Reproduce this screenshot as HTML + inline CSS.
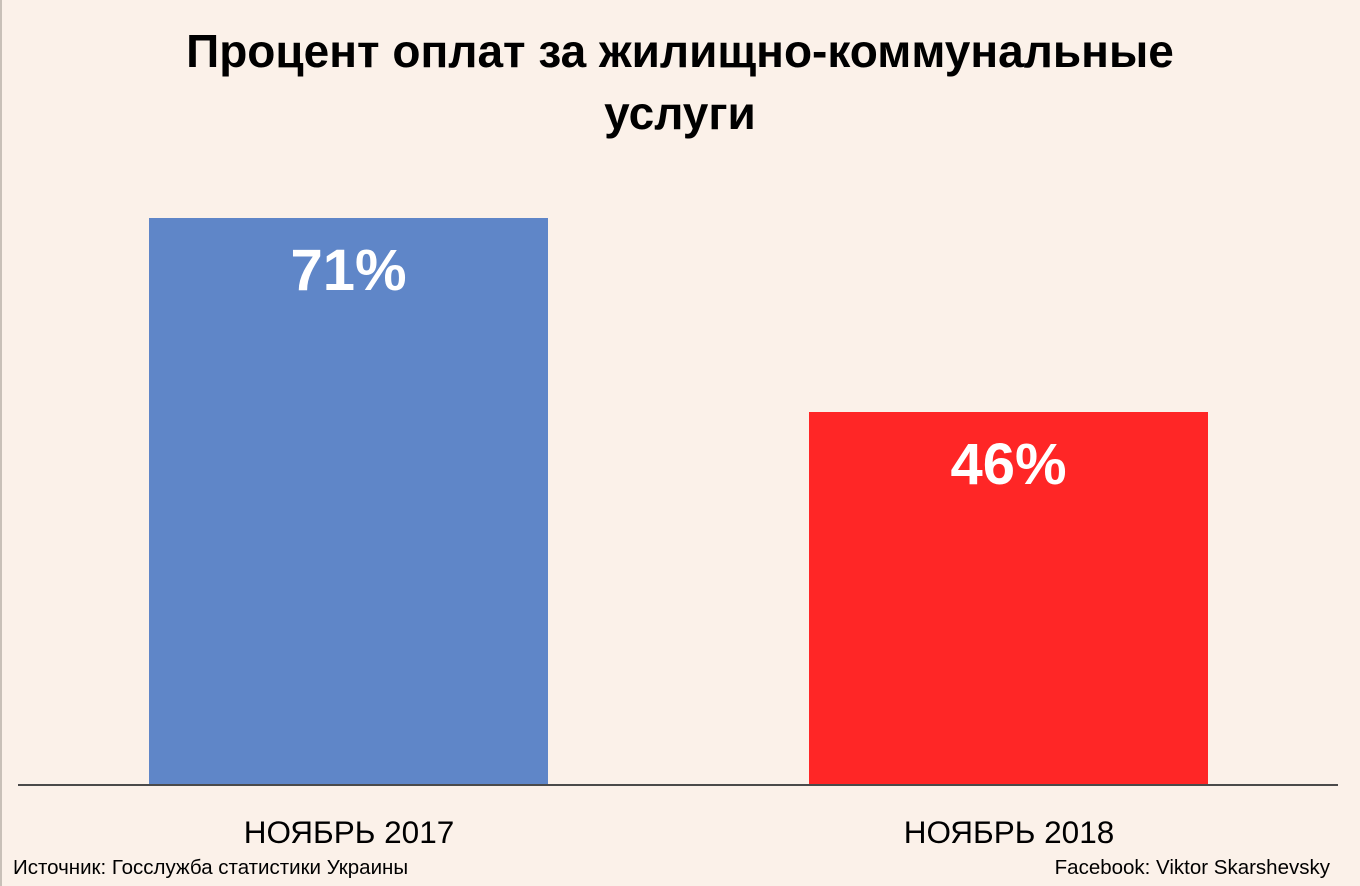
<!DOCTYPE html>
<html><head><meta charset="utf-8"><style>
body{margin:0;width:1360px;height:886px;background:#FBF1E9;position:relative;overflow:hidden;font-family:"Liberation Sans","DejaVu Sans",sans-serif}
div{position:absolute}
.t{left:0;width:1360px;text-align:center;font-weight:bold;font-size:46px;color:#000}
.bar{color:#fff;font-weight:bold;font-size:58px;text-align:center}
.lab{font-size:31.5px;text-align:center;width:400px;color:#000}
</style></head><body>
<div style="left:0;top:0;width:2px;height:886px;background:#c8c0b8"></div>
<div class="t" style="top:24px">Процент оплат за жилищно-коммунальные</div>
<div class="t" style="top:86px">услуги</div>
<div class="bar" style="left:149px;top:218px;width:399px;height:567px;background:#5F86C8;line-height:106px">71%</div>
<div class="bar" style="left:809px;top:412px;width:399px;height:373px;background:#FF2626;line-height:106px">46%</div>
<div style="left:18px;top:784px;width:1320px;height:2px;background:#4a4a4a"></div>
<div class="lab" style="left:149px;top:814px">НОЯБРЬ 2017</div>
<div class="lab" style="left:809px;top:814px">НОЯБРЬ 2018</div>
<div style="left:13px;top:856px;font-size:20.5px">Источник: Госслужба статистики Украины</div>
<div style="right:30px;top:856px;font-size:20.5px">Facebook: Viktor Skarshevsky</div>
</body></html>
